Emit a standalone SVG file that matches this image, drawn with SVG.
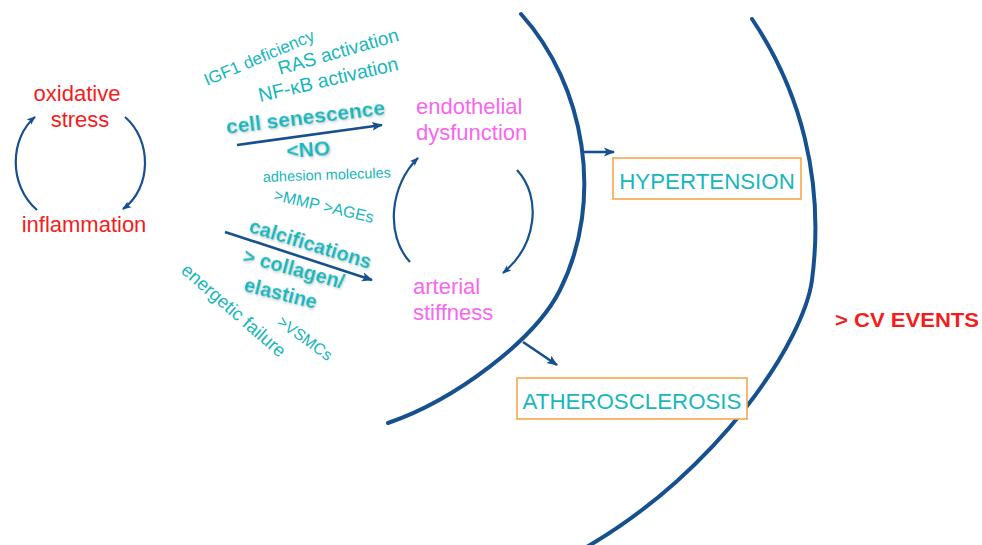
<svg xmlns="http://www.w3.org/2000/svg" width="982" height="545" viewBox="0 0 982 545">
<defs>
<marker id="ah" markerWidth="12" markerHeight="10" refX="10" refY="5" orient="auto" markerUnits="userSpaceOnUse">
<path d="M0,0.5 L11,5 L0,9.5 L2.5,5 Z" fill="#16508f"/>
</marker>
<marker id="ahs" markerWidth="10" markerHeight="8" refX="8" refY="4" orient="auto" markerUnits="userSpaceOnUse">
<path d="M0,0.5 L9,4 L0,7.5 L2,4 Z" fill="#16508f"/>
</marker>
<filter id="sh" x="-10%" y="-30%" width="120%" height="160%">
<feDropShadow dx="1" dy="1.5" stdDeviation="1" flood-color="#8a9a9a" flood-opacity="0.45"/>
</filter>
</defs>
<style>
text{font-family:"Liberation Sans",Arial,sans-serif}
.red{fill:#f51c1c;font-size:22px}
.mag{fill:#f766ee;font-size:22px}
.cy{fill:#18b6bd}
.cyb{fill:#18b6bd;font-weight:bold;filter:url(#sh)}
.box{fill:#ffffff;stroke:#f9a64a;stroke-width:1.6}
.boxt{fill:#18b6bd;font-size:22.3px}
.big{fill:none;stroke:#16508f;stroke-width:4;stroke-linecap:round}
.arr{fill:none;stroke:#16508f;stroke-width:2.6}
.cyc{fill:none;stroke:#16508f;stroke-width:2.2}
</style>
<rect width="982" height="545" fill="#ffffff"/>

<g id="connectors">
<path class="big" d="M521,14 C585,85 605,200 560,290 C535,340 455,400 388,423"/>
<path class="big" d="M752,19 C800,90 825,180 812,280 C804,340 720,470 585,548"/>
<path class="arr" d="M582,152 L614,152" marker-end="url(#ah)"/>
<path class="arr" d="M523,342 L557,365" marker-end="url(#ah)"/>
<path class="arr" d="M237,145 L382,125" marker-end="url(#ah)"/>
<path class="arr" d="M225,232 L372,280" marker-end="url(#ah)"/>
<path class="cyc" d="M37,210 C8,185 10,138 35,117" marker-end="url(#ahs)"/>
<path class="cyc" d="M125,117 C152,140 152,188 123,209" marker-end="url(#ahs)"/>
<path class="cyc" d="M410,262 C385,235 390,185 418,158" marker-end="url(#ahs)"/>
<path class="cyc" d="M517,170 C542,197 537,245 503,273" marker-end="url(#ahs)"/>
</g>

<g id="oxidative-stress">
<text class="red" x="77" y="101" text-anchor="middle">oxidative</text>
<text class="red" x="80" y="127" text-anchor="middle">stress</text>
</g>
<g id="inflammation">
<text class="red" x="84" y="232" text-anchor="middle">inflammation</text>
</g>

<g id="upper-factors">
<text class="cy" font-size="17" transform="translate(207,86) rotate(-23)">IGF1 deficiency</text>
<text class="cy" font-size="19" transform="translate(280,75) rotate(-16)">RAS activation</text>
<text class="cy" font-size="19.5" transform="translate(260,102) rotate(-13)">NF-κB activation</text>
<text class="cyb" font-size="21" transform="translate(227,134) rotate(-7)">cell senescence</text>
<text class="cyb" font-size="21" transform="translate(287,158) rotate(-4)">&lt;NO</text>
</g>

<g id="middle-factors">
<text class="cy" font-size="14.5" transform="translate(263,182) rotate(-2)">adhesion molecules</text>
<text class="cy" font-size="16" transform="translate(273,200) rotate(13)">&gt;MMP &gt;AGEs</text>
</g>

<g id="lower-factors">
<text class="cyb" font-size="20" transform="translate(248,232) rotate(17)">calcifications</text>
<text class="cyb" font-size="20" transform="translate(242,262) rotate(15)">&gt; collagen/</text>
<text class="cyb" font-size="20" transform="translate(243,291) rotate(14)">elastine</text>
<text class="cy" font-size="18.5" transform="translate(180,272) rotate(41)">energetic failure</text>
<text class="cy" font-size="16" transform="translate(276,324) rotate(36)">&gt;VSMCs</text>
</g>

<g id="endothelial-dysfunction">
<text class="mag" x="416" y="114">endothelial</text>
<text class="mag" x="416" y="140">dysfunction</text>
</g>
<g id="arterial-stiffness">
<text class="mag" x="413" y="294">arterial</text>
<text class="mag" x="413" y="320">stiffness</text>
</g>

<g id="hypertension">
<rect class="box" x="613" y="158" width="188" height="41"/>
<text class="boxt" x="707" y="189" text-anchor="middle">HYPERTENSION</text>
</g>
<g id="atherosclerosis">
<rect class="box" x="517" y="378" width="230" height="41"/>
<text class="boxt" x="632" y="409" text-anchor="middle">ATHEROSCLEROSIS</text>
</g>

<g id="cv-events">
<text x="835" y="327" font-size="20" font-weight="bold" fill="#f51c1c" textLength="144" lengthAdjust="spacingAndGlyphs">&gt; CV EVENTS</text>
</g>
</svg>
